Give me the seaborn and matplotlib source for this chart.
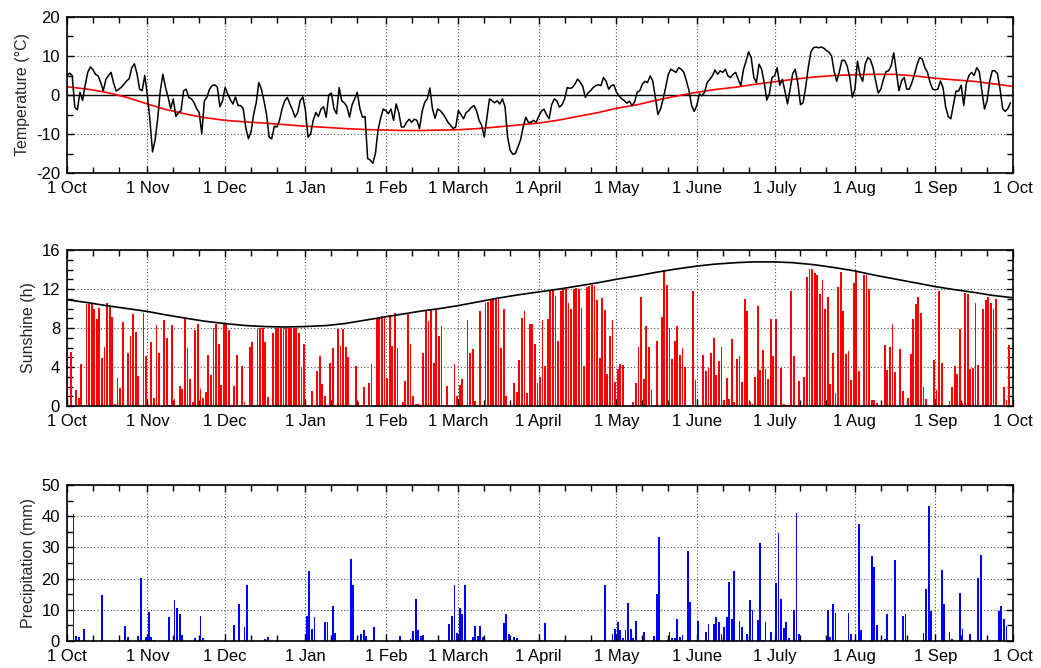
import matplotlib
matplotlib.use("Agg")
import matplotlib.pyplot as plt
import numpy as np
import pandas as pd
import seaborn as sns
from matplotlib.ticker import MultipleLocator

# ---------------- data ----------------
month_starts = [0, 31, 61, 92, 123, 151, 182, 212, 243, 273, 304, 335, 365]
month_labels = ["1 Oct", "1 Nov", "1 Dec", "1 Jan", "1 Feb", "1 March", "1 April",
                "1 May", "1 June", "1 July", "1 Aug", "1 Sep", "1 Oct"]

# daily mean temperature (degC), 1 Oct .. 30 Sep
temperature = [
    4.9, 5.6, 5.0, -3.1, -3.8, 0.7, -1.4, 2.5, 5.8, 7.2, 6.5, 5.3, 4.9, 3.2, 1.1, 4.0,
    5.0, 5.8, 3.0, 1.0, 1.5, 2.0, 2.8, 3.6, 4.2, 7.0, 8.0, 5.5, 1.5, 1.1, 5.0, 0.0,
    -6.5, -14.6, -11.5, -6.0, 1.1, 5.3, 2.0, -0.5, -3.5, -1.0, -5.5, -4.5, -4.0, 1.1,
    1.5, -0.6, -1.0, -1.9, -3.5, -4.5, -9.9, -1.5, -0.5, 1.5, 2.4, 2.6, 2.0, -3.0,
    -1.5, 1.9, 0.3, -1.2, -2.3, -0.5, -2.7, -2.7, -3.5, -8.5, -11.2, -9.5, -5.0, -2.0,
    3.2, 1.5, -1.5, -5.0, -10.8, -11.2, -8.0, -8.2, -6.5, -3.5, -1.5, -0.6, -2.3, -3.8,
    -5.7, -4.5, -1.4, -0.5,
    -4.0, -10.8, -10.0, -6.5, -4.5, -5.5, -3.6, -3.0, -5.7, 0.0, 0.5, -3.5, -4.8, 1.9,
    -1.5, -2.0, -3.0, -5.7, -2.5, -1.0, 0.7, -3.5, -5.7, -5.5, -16.3, -16.7, -17.5,
    -15.0, -9.0, -6.0, -3.6, -4.0, -4.8, -3.6, -6.5, -2.3, -4.5, -8.2, -8.2, -7.0, -6.2,
    -7.0, -6.2, -6.5, -8.6, -4.3, -1.9, -1.0, 1.8, -3.5, -6.0, -3.6, -4.0, -4.8, -5.8,
    -7.0, -7.8, -8.6, -8.2, -4.0, -5.0, -6.1, -4.5, -4.0, -3.2, -2.7, -4.0, -6.5, -7.8,
    -10.8, -6.0, -1.0, -1.5, -2.0, -1.5, -2.3, -1.0, -3.0, -10.8, -14.2, -15.2, -15.0,
    -13.3, -11.5, -8.2, -5.7, -7.0, -7.0, -6.5, -7.0,
    -5.5, -4.2, -3.6, -5.0, -6.1, -2.5, -1.0, -1.5, -3.1, -2.5, -1.0, 1.9, 1.7, 1.9,
    2.8, 4.1, 3.3, 2.2, -0.6, 0.5, 1.1, 1.9, 2.4, 2.6, 2.4, 4.5, 3.5, 1.5, 2.4, 2.6,
    0.7, -0.2, -1.0, -1.4, -2.1, -1.6, -2.7, -1.8, 0.7, 1.1, 2.8, 3.5, 3.2, 4.9, 3.6,
    -0.6, -5.0, -3.6, -1.0, 2.0, 5.3, 6.6, 6.2, 5.8, 7.0, 6.6, 5.8, 3.6, 1.1, -2.7,
    -4.2, -2.7, 0.3, -0.2, 0.7, 3.2, 4.0, 4.9, 6.4, 5.3, 6.2, 5.8, 6.6, 4.9, 4.5, 5.3,
    5.8, 4.0, 2.4, 6.5, 8.7, 11.1, 9.5, 4.5, 3.2, 7.9, 6.6, 3.2, -1.3, 0.3, 4.5,
    4.9, 7.0, 2.5, 4.0, 1.0, -2.3, 1.5, 5.5, 6.6, 3.0, -2.5, -2.0, 2.0, 7.0, 11.0,
    12.1, 12.3, 12.1, 12.3, 12.0, 11.4, 11.0, 10.0, 6.0, 3.5, 6.0, 8.9, 8.9, 7.5, 4.5,
    -0.6, 1.5, 8.7, 5.0, 3.5, 8.0, 9.6, 9.0, 7.0, 3.6, 0.5, 1.5, 4.0, 6.0, 6.2, 7.5,
    10.8, 6.0, 1.1, 3.6, 4.5, 1.5, 1.5, 3.2, 5.3, 7.8, 9.6, 9.2, 7.0, 5.8, 3.2, 1.5,
    1.3, 1.5, 3.6, 1.9, -3.0, -5.5, -6.1, -2.5, 1.0, 1.0, 2.5, -2.7, 3.0, 5.0, 5.8,
    5.0, 7.0, 6.0, 1.0, -3.6, -1.5, 3.5, 6.2, 6.2, 5.5, 1.5, -3.5, -4.2, -3.5, -2.0,
]

# long-term normal temperature (degC), read about weekly
normal_days = [0, 8, 15, 23, 31, 38, 46, 53, 61, 69, 76, 84, 92, 100, 107, 115, 123,
               130, 137, 144, 151, 159, 166, 174, 182, 190, 197, 205, 212, 220, 227,
               235, 243, 250, 258, 265, 273, 280, 288, 296, 304, 311, 319, 327, 335,
               342, 350, 357, 365]
normal_temp = [2.1, 1.5, 0.7, -0.6, -2.3, -3.7, -4.9, -5.8, -6.5, -6.9, -7.2, -7.6,
               -8.0, -8.3, -8.6, -8.85, -9.0, -9.1, -9.1, -9.0, -8.9, -8.6, -8.2, -7.7,
               -7.2, -6.4, -5.5, -4.5, -3.4, -2.5, -1.4, -0.3, 0.7, 1.4, 2.0, 2.7, 3.4,
               4.0, 4.6, 5.0, 5.2, 5.3, 5.3, 4.9, 4.3, 3.9, 3.5, 2.9, 2.2]

# daily sunshine duration (h)
sunshine = [
    0, 5.5, 0, 1.6, 0.85, 4.3, 0, 10.5, 10.5, 10.6, 9.9, 8.9, 10.1, 4.9, 6.1, 10.6,
    10.2, 9.1, 0.2, 2.9, 1.8, 8.6, 0, 5.4, 7.2, 9.4, 7.6, 3.1, 0, 9.5, 5.1, 0,
    6.6, 0.85, 8.3, 5.4, 0, 8.8, 7.0, 0.1, 8.3, 0.7, 0, 2.1, 1.7, 9.0, 6.0, 2.8,
    0.4, 7.8, 8.4, 1.7, 0.8, 1.4, 5.2, 3.2, 8.0, 8.4, 6.4, 2.2, 8.4, 8.4, 7.8, 0.1,
    2.1, 5.2, 0, 4.1, 0.4, 0, 6.1, 6.6, 0, 7.9, 8.0, 8.0, 6.6, 0.9, 0, 7.5,
    8.0, 8.0, 8.0, 8.0, 8.0, 8.0, 8.0, 8.0, 8.0, 7.5, 3.9, 6.4,
    0, 0, 1.5, 0, 3.6, 5.1, 2.3, 1.0, 0, 4.4, 5.9, 0, 7.9, 6.2, 7.9, 6.1,
    5.0, 0, 0, 4.1, 0.4, 0, 1.9, 0, 2.4, 4.3, 0, 9.0, 9.1, 9.2, 9.2, 2.9,
    9.3, 6.2, 9.5, 5.9, 0, 0.4, 2.6, 9.5, 6.4, 1.0, 0.2, 0.2, 0.1, 5.4, 9.7, 8.7,
    9.9, 4.4, 9.9, 7.2, 8.2, 0, 2.1, 0, 0, 4.3, 1.0, 2.2, 2.8, 0, 8.8, 5.4,
    5.8, 0.5, 0, 9.7, 0, 10.6, 10.7, 10.9, 11.0, 11.0, 11.0, 6.0, 10.0, 1.0, 0, 0,
    2.4, 1.4, 4.7, 9.0, 9.7, 1.3, 8.4, 8.4, 6.4, 2.4,
    3.0, 8.8, 4.1, 8.9, 11.9, 11.9, 11.3, 6.7, 11.8, 12.0, 12.0, 10.6, 9.9, 12.0,
    12.1, 12.0, 10.1, 4.1, 12.2, 12.3, 12.4, 12.3, 10.9, 4.9, 11.1, 9.8, 3.3, 7.2,
    8.8, 2.5, 3.8, 4.3, 4.2, 0, 0, 0, 0.4, 2.4, 6.1, 11.2, 2.8, 8.2, 6.1, 1.6, 0,
    6.7, 0, 9.1, 13.9, 12.4, 8.0, 4.8, 6.7, 8.2, 5.2, 6.0, 4.0, 0, 0, 11.8, 2.7,
    0, 0, 5.2, 3.6, 3.9, 5.4, 7.0, 3.2, 4.6, 6.1, 0.6, 2.9, 0.7, 6.9, 0.4, 4.8,
    5.1, 2.5, 11.0, 9.7, 0.4, 0.2, 3.0, 10.3, 3.7, 5.7, 3.8, 2.8, 8.9, 5.1,
    8.9, 0, 3.9, 0.2, 0.1, 0.1, 11.8, 5.1, 0, 2.6, 0, 3.0, 13.2, 14.1, 14.1, 13.6,
    13.4, 11.5, 12.9, 10.0, 11.2, 2.3, 5.4, 1.3, 12.2, 13.7, 9.7, 5.3, 5.6, 2.7,
    12.6, 13.7, 3.6, 0, 13.4, 13.4, 12.0, 0.6, 0.6, 0.3, 0, 0, 6.3, 3.7, 6.1, 8.4,
    3.5, 0, 5.8, 1.5, 0, 0.85, 5.3, 8.9, 10.5, 11.2, 9.5, 1.9, 0.7, 0, 0, 4.7, 1.6,
    11.8, 4.4, 0, 0, 0.5, 1.9, 4.1, 3.3, 7.9, 0.3, 11.6, 11.5, 3.8, 3.9, 10.6, 4.2,
    0, 9.9, 10.9, 11.2, 10.6, 9.9, 11.0, 0, 0, 2.0, 0.6, 6.3, 0,
]

# astronomically possible sunshine (h), read about weekly
max_sun_days = [0, 8, 15, 23, 31, 38, 46, 53, 61, 69, 76, 84, 92, 100, 107, 115, 123,
                130, 137, 144, 151, 159, 166, 174, 182, 190, 197, 205, 212, 220, 227,
                235, 243, 250, 258, 265, 273, 280, 288, 296, 304, 311, 319, 327, 335,
                342, 350, 357, 365]
max_sunshine = [10.9, 10.6, 10.3, 10.0, 9.7, 9.35, 9.0, 8.7, 8.45, 8.25, 8.15, 8.1,
                8.15, 8.25, 8.45, 8.8, 9.15, 9.45, 9.75, 10.0, 10.3, 10.7, 11.05, 11.4,
                11.7, 12.0, 12.3, 12.65, 13.0, 13.35, 13.7, 14.05, 14.35, 14.55, 14.7,
                14.78, 14.78, 14.7, 14.5, 14.2, 13.85, 13.45, 13.05, 12.65, 12.25,
                11.95, 11.65, 11.35, 11.1]

# daily precipitation (mm), days with measurable precipitation only
precip_days = [2, 3, 4, 6, 13, 22, 23, 27, 28, 30, 31, 32, 33, 39, 41, 42, 43, 44, 49,
               51, 52, 64, 66, 68, 69, 76, 77,
               92, 93, 94, 95, 99, 100, 102, 103, 109, 110, 113, 114, 115, 117, 118,
               128, 132, 133, 134, 135, 136, 137, 147, 148, 149, 150, 151, 152, 153,
               156, 157, 158, 159, 160, 168, 169, 170, 172, 173,
               183, 184, 207, 210, 211, 212, 213, 214, 215, 216, 217, 218, 219, 222,
               226, 227, 228, 232, 233, 234, 235, 236, 237, 239, 240, 243, 246, 247,
               249, 250, 251, 252, 253, 254, 255, 256, 257, 258, 259, 260, 262, 263,
               264, 266, 267, 268, 269, 271,
               273, 274, 275, 276, 277, 278, 280, 281, 282, 293, 294, 295, 296, 301,
               302, 305, 306, 310, 311, 312, 315, 316, 319, 322, 323, 330, 331, 332,
               333, 337, 338, 340, 341, 344, 345, 348, 351, 352, 359, 360, 361, 362]
precip_mm = [40.7, 1.7, 1.4, 4.0, 14.7, 4.9, 1.4, 1.6, 20.3, 1.4, 9.4, 1.4, 0.3, 7.6,
             13.1, 10.7, 8.8, 1.9, 0.9, 8.1, 1.1, 5.1, 11.8, 4.6, 17.9, 0.6, 1.2,
             8.0, 22.4, 3.7, 7.6, 6.2, 6.0, 11.2, 2.7, 26.4, 18.1, 2.2, 3.5, 1.6, 0.3,
             4.6, 1.6, 0.5, 3.3, 13.6, 3.5, 1.7, 1.9, 5.3, 8.1, 18.1, 2.7, 10.7, 8.5,
             18.1, 1.2, 4.9, 1.6, 4.9, 1.2, 5.9, 8.8, 2.2, 1.4, 1.1,
             0.3, 5.9, 17.9, 2.1, 3.8, 6.2, 3.5, 1.0, 3.5, 12.3, 3.8, 1.1, 6.3, 3.0,
             1.6, 15.2, 33.3, 3.0, 0.9, 0.9, 6.9, 1.4, 1.8, 29.0, 12.6, 6.4, 3.0, 5.6,
             5.6, 7.6, 6.2, 2.4, 4.6, 7.6, 18.9, 6.9, 22.4, 0.3, 6.5, 4.6, 2.4, 13.1,
             9.9, 6.7, 31.5, 0.3, 6.2, 3.0,
             18.6, 34.7, 13.4, 4.3, 6.0, 0.9, 9.9, 41.1, 2.2, 9.9, 1.4, 12.0, 9.0, 9.1,
             2.2, 37.6, 3.5, 27.4, 23.7, 5.1, 0.6, 8.5, 25.9, 8.0, 8.8, 2.7, 16.8, 43.2,
             9.7, 22.9, 12.0, 2.8, 0.5, 15.5, 4.0, 2.1, 20.3, 27.7, 9.7, 11.3, 6.9, 4.9]

# ---------------- figure ----------------
sns.set_theme(style="white")
plt.rcParams['font.family'] = ['Liberation Sans', 'DejaVu Sans']
plt.rcParams['axes.unicode_minus'] = False

days = np.arange(len(temperature))
temp_df = pd.DataFrame({"day": days, "temp": temperature})
norm_df = pd.DataFrame({"day": normal_days, "temp": normal_temp})
sun_df = pd.DataFrame({"day": np.arange(len(sunshine)) + 0.5, "hours": sunshine})
maxsun_df = pd.DataFrame({"day": max_sun_days, "hours": max_sunshine})
prec_df = pd.DataFrame({"day": np.array(precip_days) + 0.5, "mm": precip_mm})

W, H = 1041, 668
fig = plt.figure(figsize=(W / 100, H / 100), dpi=100)
left = 67 / W
width = 946 / W
ph = 156 / H
ax1 = fig.add_axes([left, 1 - 173 / H, width, ph])
ax2 = fig.add_axes([left, 1 - 406 / H, width, ph])
ax3 = fig.add_axes([left, 1 - 641 / H, width, ph])

FS = 12
GRID = dict(color='0.3', linestyle=(0, (1, 2)), linewidth=0.8)


def style(ax, ylim, major, minor, ylabel):
    ax.set_xlim(0, 365)
    ax.set_ylim(*ylim)
    ax.set_xticks(month_starts)
    ax.set_xticklabels(month_labels)
    ax.set_xticks([m + o for m in month_starts[:-1] for o in (10, 20)], minor=True)
    ax.yaxis.set_major_locator(MultipleLocator(major))
    ax.yaxis.set_minor_locator(MultipleLocator(minor))
    ax.tick_params(which='both', direction='in', top=True, right=True,
                   bottom=True, left=True, colors='black', width=1.0)
    ax.tick_params(which='major', length=5, labelsize=FS, pad=5)
    ax.tick_params(axis='x', which='major', pad=6)
    ax.tick_params(which='minor', length=4.5)
    for s in ax.spines.values():
        s.set_visible(True)
        s.set_color('black')
        s.set_linewidth(1.2)
    ax.grid(True, which='major', **GRID)
    ax.set_axisbelow(True)
    ax.set_xlabel("")
    ax.set_ylabel(ylabel, fontsize=11.5, labelpad=4)


# Temperature
ax1.axhline(0, color='black', linewidth=1.0, zorder=1)
sns.lineplot(data=norm_df, x="day", y="temp", color='red', linewidth=1.2,
             estimator=None, ax=ax1, zorder=2)
sns.lineplot(data=temp_df, x="day", y="temp", color='black', linewidth=1.1,
             estimator=None, ax=ax1, zorder=3)
style(ax1, (-20, 20), 10, 5, "Temperature (°C)")

# Sunshine
ax2.bar(sun_df["day"], sun_df["hours"], width=0.7, color='#ff0000', linewidth=0, zorder=2)
sns.lineplot(data=maxsun_df, x="day", y="hours", color='black', linewidth=1.2,
             estimator=None, ax=ax2, zorder=3)
style(ax2, (0, 16), 4, 1, "Sunshine (h)")

# Precipitation
ax3.bar(prec_df["day"], prec_df["mm"], width=0.7, color='#0000ff', linewidth=0, zorder=2)
style(ax3, (0, 50), 10, 5, "Precipitation (mm)")

fig.savefig("out.png", dpi=100)
